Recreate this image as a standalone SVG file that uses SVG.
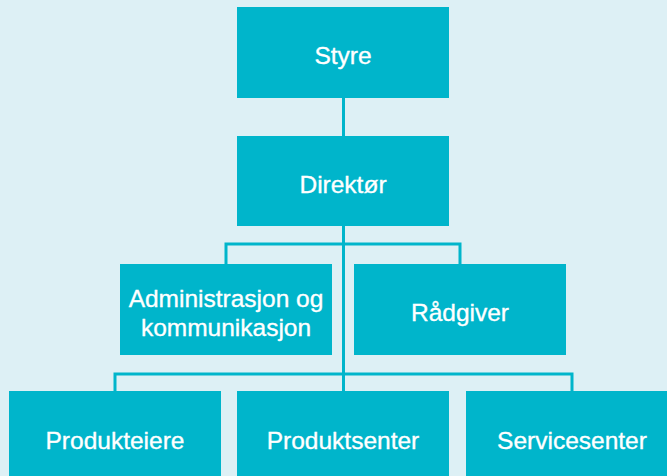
<svg xmlns="http://www.w3.org/2000/svg" width="667" height="476" viewBox="0 0 667 476">
<style>
.box{fill:#00B5CB}
.t{font-family:"Liberation Sans",Arial,sans-serif;font-size:24.5px;fill:#fff;stroke:#fff;stroke-width:0.35;text-anchor:middle}
.c{fill:none;stroke:#00B5CB;stroke-width:3}
</style>
<rect width="667" height="476" fill="#DDF0F5"/>
<g id="connectors">
<path class="c" d="M343.5 98V136M343.5 226V391M226 264V244H460V264M115 391V374H572V391"/>
</g>
<g id="styre"><rect class="box" x="237" y="7" width="212" height="91"/><text class="t" x="343" y="64">Styre</text></g>
<g id="direktor"><rect class="box" x="237" y="136" width="212" height="90"/><text class="t" x="343" y="193">Direktør</text></g>
<g id="admin"><rect class="box" x="120" y="264" width="212" height="91"/><text class="t" x="226" y="307">Administrasjon og</text><text class="t" x="226" y="336">kommunikasjon</text></g>
<g id="radgiver"><rect class="box" x="354" y="264" width="212" height="91"/><text class="t" x="460" y="321">Rådgiver</text></g>
<g id="produkteiere"><rect class="box" x="9" y="391" width="212" height="90"/><text class="t" x="115" y="449">Produkteiere</text></g>
<g id="produktsenter"><rect class="box" x="237" y="391" width="212" height="90"/><text class="t" x="343" y="449">Produktsenter</text></g>
<g id="servicesenter"><rect class="box" x="466" y="391" width="212" height="90"/><text class="t" x="572" y="449">Servicesenter</text></g>
</svg>
